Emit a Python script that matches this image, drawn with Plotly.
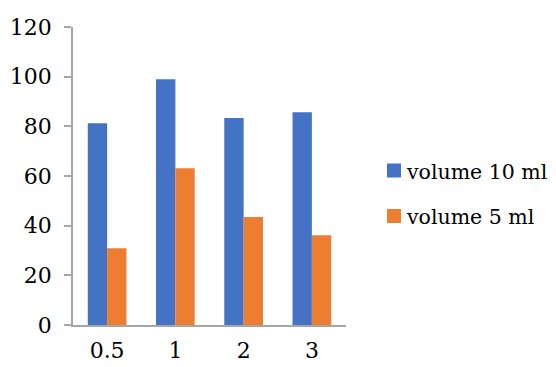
import plotly.graph_objects as go

# Dose categories and measured responses
categories = ["0.5", "1", "2", "3"]
volume_10_ml = [81.2, 99.0, 83.4, 85.7]
volume_5_ml = [30.9, 63.1, 43.5, 36.1]
series_names = ["volume 10 ml", "volume 5 ml"]
y_ticks = [0, 20, 40, 60, 80, 100, 120]

BLUE = "#4472C4"
ORANGE = "#ED7D31"
AXIS = "#A6A6A6"
FONT = "DejaVu Serif"

W, H = 556, 367
L, R, T, B = 73, 210, 27, 42
plot_w = W - L - R
plot_h = H - T - B


def px_x(px):
    return (px - L) / plot_w


def px_y(py):
    return (H - B - py) / plot_h


fig = go.Figure()
fig.add_trace(go.Bar(x=categories, y=volume_10_ml, name=series_names[0],
                     marker=dict(color=BLUE, line=dict(width=0))))
fig.add_trace(go.Bar(x=categories, y=volume_5_ml, name=series_names[1],
                     marker=dict(color=ORANGE, line=dict(width=0))))

# Legend drawn as swatches plus text to the right of the plot
legend_rows = [(series_names[0], BLUE, 170.5), (series_names[1], ORANGE, 216.0)]
shapes = []
annotations = []
for name, color, cy in legend_rows:
    shapes.append(dict(type="rect", xref="paper", yref="paper",
                       x0=px_x(387), x1=px_x(401), y0=px_y(cy + 7), y1=px_y(cy - 7),
                       fillcolor=color, line=dict(width=0)))
    annotations.append(dict(text=name, xref="paper", yref="paper",
                            x=px_x(404), y=px_y(cy + 1), xanchor="left", yanchor="middle",
                            showarrow=False, font=dict(family=FONT, size=20.5, color="black")))

fig.update_layout(
    width=W, height=H,
    margin=dict(l=L, r=R, t=T, b=B, pad=0),
    paper_bgcolor="white", plot_bgcolor="white",
    barmode="group", bargap=0.433, bargroupgap=0,
    showlegend=False,
    font=dict(family=FONT, size=22, color="black"),
    shapes=shapes, annotations=annotations,
)
fig.update_xaxes(type="category", showline=True, linecolor=AXIS, linewidth=1.5,
                 ticks="", showgrid=False, zeroline=False, automargin=False,
                 tickfont=dict(family=FONT, size=22, color="black"),
                 ticklabelstandoff=5)
fig.update_yaxes(range=[0, 120], tickvals=y_ticks, showline=True, linecolor=AXIS,
                 linewidth=1.5, ticks="outside", ticklen=7, tickcolor=AXIS, tickwidth=1.5,
                 showgrid=False, zeroline=False, automargin=False,
                 tickfont=dict(family=FONT, size=22, color="black"),
                 ticklabelstandoff=8)

fig.write_html("out.html")
